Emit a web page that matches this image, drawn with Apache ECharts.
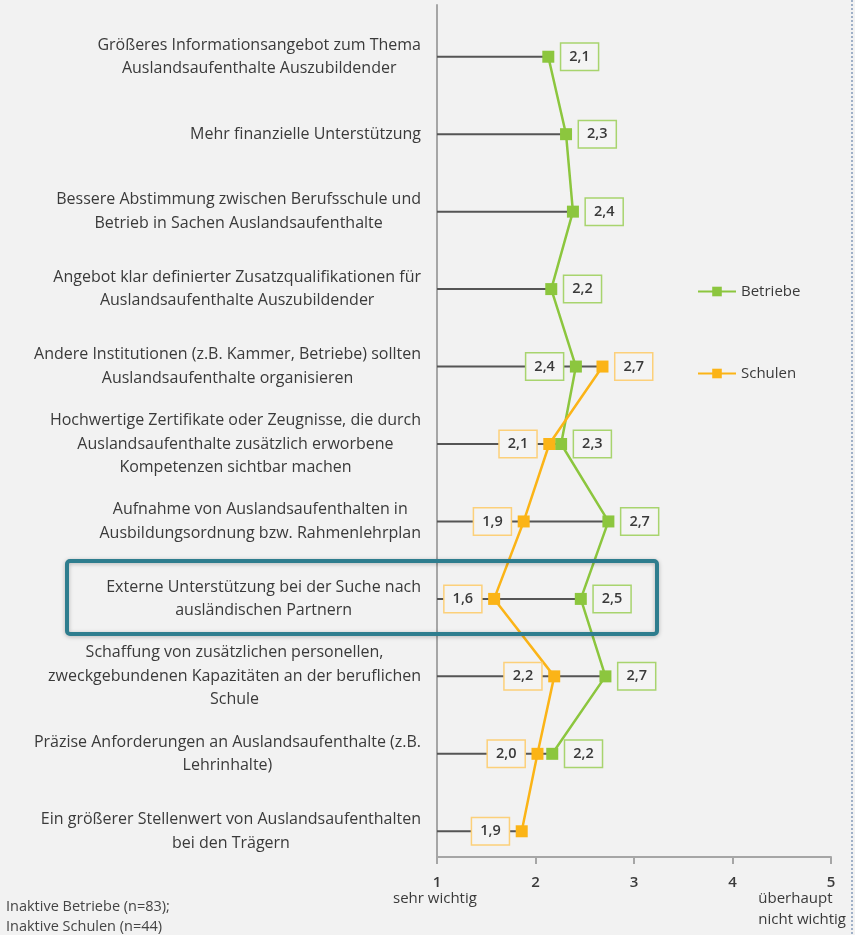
<!DOCTYPE html>
<html>
<head>
<meta charset="utf-8">
<script src="https://cdn.jsdelivr.net/npm/echarts@6/dist/echarts.min.js"></script>
<style>
  html, body { margin: 0; padding: 0; background: #f2f2f2; }
  #main { width: 855px; height: 935px; }
</style>
</head>
<body>
<div id="main"></div>
<script>
// Kategorien (von oben nach unten)
const categories = [
  'Größeres Informationsangebot zum Thema\nAuslandsaufenthalte Auszubildender',
  'Mehr finanzielle Unterstützung',
  'Bessere Abstimmung zwischen Berufsschule und\nBetrieb in Sachen Auslandsaufenthalte',
  'Angebot klar definierter Zusatzqualifikationen für\nAuslandsaufenthalte Auszubildender',
  'Andere Institutionen (z.B. Kammer, Betriebe) sollten\nAuslandsaufenthalte organisieren',
  'Hochwertige Zertifikate oder Zeugnisse, die durch\nAuslandsaufenthalte zusätzlich erworbene\nKompetenzen sichtbar machen',
  'Aufnahme von Auslandsaufenthalten in\nAusbildungsordnung bzw. Rahmenlehrplan',
  'Externe Unterstützung bei der Suche nach\nausländischen Partnern',
  'Schaffung von zusätzlichen personellen,\nzweckgebundenen Kapazitäten an der beruflichen\nSchule',
  'Präzise Anforderungen an Auslandsaufenthalte (z.B.\nLehrinhalte)',
  'Ein größerer Stellenwert von Auslandsaufenthalten\nbei den Trägern'
]
const betriebe = [2.13, 2.31, 2.38, 2.16, 2.41, 2.26, 2.74, 2.46, 2.71, 2.17, null]
const schulen = [null, null, null, null, 2.68, 2.14, 1.88, 1.58, 2.19, 2.02, 1.86]
const scaleTicks = [1, 2, 3, 4, 5]

const FONT = '"Open Sans", sans-serif'
const GREEN = '#8cc63e'
const ORANGE = '#fbb417'
const TEXT = '#3a3a3a'

// Linie von 1 bis zum größeren Wert je Zeile
const rangeData = betriebe.map((b, i) => Math.max(b || 0, schulen[i] || 0))

const fmt = function (p) {
  return p.value.toFixed(1).replace('.', ',')
}
const boxLabel = function (border) {
  return {
    show: true,
    formatter: fmt,
    fontFamily: FONT,
    fontSize: 14.5,
    fontWeight: 600,
    color: TEXT,
    backgroundColor: '#f4f4f4',
    borderColor: border,
    borderWidth: 1.5,
    padding: [6, 8, 5, 8],
    distance: 7
  }
}
// Zeile 5: Beschriftungen vertauscht
const flipRow = 4

const chart = echarts.init(document.getElementById('main'))
const option = {
  backgroundColor: '#f2f2f2',
  animation: false,
  grid: [
    { left: 437, right: 24, top: 18, bottom: 65 },
    { left: 437, right: 24, top: 5, bottom: 78 }
  ],
  xAxis: [
    { gridIndex: 0, type: 'value', min: 1, max: 5, show: false },
    {
      gridIndex: 1, type: 'value', min: 1, max: 5, interval: 1,
      axisLine: { show: true, lineStyle: { color: '#a6a6a6', width: 2 } },
      axisTick: { show: true, length: 7, lineStyle: { color: '#a6a6a6', width: 2 } },
      splitLine: { show: false },
      axisLabel: {
        margin: 18, fontFamily: FONT, fontSize: 15, fontWeight: 600, color: TEXT,
        customValues: scaleTicks
      }
    }
  ],
  yAxis: [
    {
      gridIndex: 0, type: 'category', inverse: true, data: categories,
      axisLine: { show: false }, axisTick: { show: false }, splitLine: { show: false },
      axisLabel: {
        margin: 16,
        formatter: function (v) {
          return v.split('\n').map(l => '{c|' + l + '}').join('\n')
        },
        rich: {
          c: { align: 'center', fontFamily: FONT, fontSize: 16, lineHeight: 23.5, color: TEXT }
        }
      }
    },
    {
      gridIndex: 1, type: 'value', min: 0, max: 1,
      axisLine: { show: true, lineStyle: { color: '#a6a6a6', width: 2 } },
      axisTick: { show: false }, axisLabel: { show: false }, splitLine: { show: false }
    }
  ],
  legend: {
    orient: 'vertical', left: 692, top: 279, itemGap: 67,
    itemWidth: 38, itemHeight: 12,
    textStyle: { fontFamily: FONT, fontSize: 15, color: TEXT },
    data: ['Betriebe', 'Schulen']
  },
  series: [
    {
      name: 'range', type: 'bar', xAxisIndex: 0, yAxisIndex: 0,
      data: rangeData, barWidth: 2, silent: true, z: 1,
      itemStyle: { color: '#555555' }
    },
    {
      name: 'Betriebe', type: 'line', xAxisIndex: 0, yAxisIndex: 0,
      symbol: 'rect', symbolSize: 12, z: 3,
      lineStyle: { color: GREEN, width: 2.5 },
      itemStyle: { color: GREEN },
      label: Object.assign(boxLabel('#a8d46e'), { position: 'right' }),
      data: betriebe.map((v, i) => i === flipRow ? { value: v, label: { position: 'left' } } : v)
    },
    {
      name: 'Schulen', type: 'line', xAxisIndex: 0, yAxisIndex: 0,
      symbol: 'rect', symbolSize: 12, z: 4,
      lineStyle: { color: ORANGE, width: 2.5 },
      itemStyle: { color: ORANGE },
      label: Object.assign(boxLabel('#fcd07a'), { position: 'left' }),
      data: schulen.map((v, i) => i === flipRow ? { value: v, label: { position: 'right' } } : v)
    }
  ],
  graphic: [
    {
      type: 'text', left: 393, top: 891,
      style: { text: 'sehr wichtig', fontFamily: FONT, fontSize: 15, fill: TEXT }
    },
    {
      type: 'text', right: 9, top: 888,
      style: { text: 'überhaupt\nnicht wichtig', align: 'right', fontFamily: FONT, fontSize: 15, lineHeight: 21, fill: TEXT }
    },
    {
      type: 'text', left: 6, top: 897,
      style: { text: 'Inaktive Betriebe (n=83);\nInaktive Schulen (n=44)', fontFamily: FONT, fontSize: 14.5, lineHeight: 20, fill: '#444' }
    },
    {
      type: 'rect', z: 100,
      shape: { x: 67, y: 561, width: 590, height: 73, r: 3 },
      style: {
        fill: 'none', stroke: '#2e7d8e', lineWidth: 4,
        shadowBlur: 4, shadowColor: 'rgba(0,0,0,0.25)', shadowOffsetY: 1
      }
    },
    {
      type: 'line', z: 100,
      shape: { x1: 852, y1: 0, x2: 852, y2: 935 },
      style: { stroke: '#9fb0c8', lineWidth: 2, lineDash: [2, 2] }
    }
  ]
}
chart.setOption(option)
</script>
</body>
</html>
